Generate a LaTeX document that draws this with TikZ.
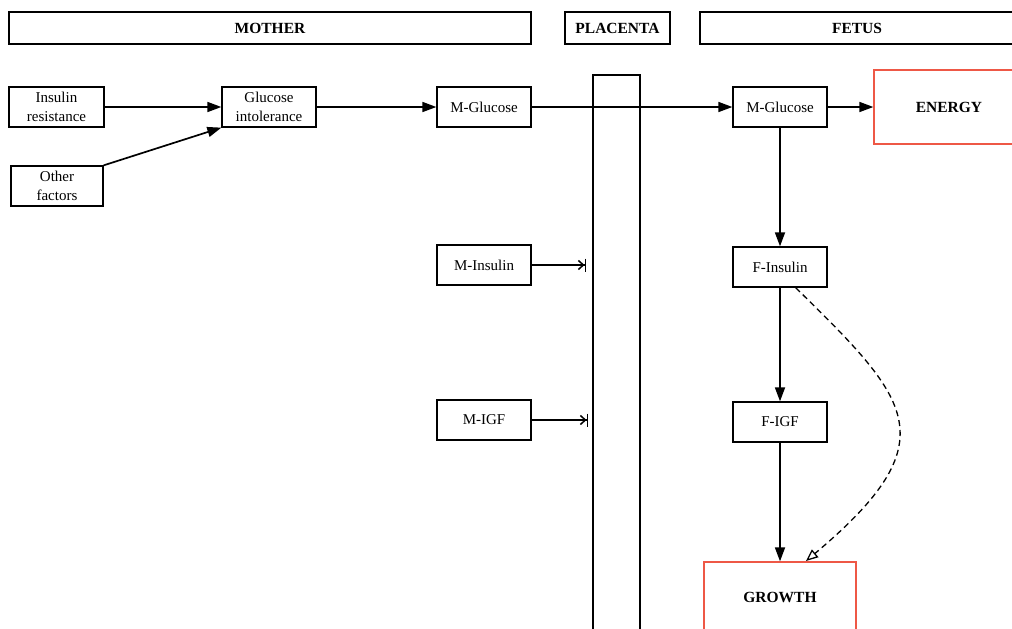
\documentclass[tikz,border=0pt]{standalone}
\usepackage{fontspec}
\setmainfont{Liberation Serif}
\usepackage{tikz}
\usetikzlibrary{arrows, arrows.meta}
\definecolor{outred}{RGB}{238,88,70}

\begin{document}
\begin{tikzpicture}[
    > = {Triangle[length=14pt,width=10pt]}, % arrow head style
    x = 1pt, y = -1pt, % one unit per pixel, y downwards
    every edge/.style = {draw, line width = 1.7pt}, % line style
    font = \fontsize{15}{19}\selectfont
]

\tikzstyle{every node}=[
    draw = black,
    line width = 1.3pt,
    fill = white,
    inner sep = 0pt,
    align = center
]
\tikzstyle{small box}=[minimum width = 94pt, minimum height = 40pt]
\tikzstyle{header}=[minimum height = 32pt, font = \fontsize{15.5}{19}\selectfont\bfseries]
\tikzstyle{outcome}=[draw = outred, font = \fontsize{15.5}{19}\selectfont\bfseries]
\tikzstyle{blocked}=[draw, line width = 1.5pt, -{Straight Barb[length=5pt,width=9pt] Bar[width=13pt]}]

\clip (0,0) rectangle (1012,629);

% column headers
\node[header, minimum width = 522pt] (Mother) at (270,28) {MOTHER};
\node[header, minimum width = 105pt] (Placenta) at (617.5,28) {PLACENTA};
\node[header, minimum width = 314pt] (Fetus) at (857,28) {FETUS};

% placenta barrier
\node[minimum width = 47pt, minimum height = 625pt] (Barrier) at (616.5,387.5) {};

% mother side
\node[small box, minimum width = 95pt] (Insulin resistance) at (56.5,107) {Insulin\\resistance};
\node[small box, minimum width = 92pt] (Other factors) at (57,186) {Other\\factors};
\node[small box] (Glucose intolerance) at (269,107) {Glucose\\intolerance};
\node[small box] (Mother Glucose) at (484,107) {M-Glucose};
\node[small box] (Mother Insulin) at (484,265) {M-Insulin};
\node[small box] (Mother IGF) at (484,420) {M-IGF};

% fetus side
\node[small box] (Fetal Glucose) at (780,107) {M-Glucose};
\node[small box] (Fetal Insulin) at (780,267) {F-Insulin};
\node[small box] (Fetal IGF) at (780,422) {F-IGF};
\node[outcome, minimum width = 150pt, minimum height = 74pt] (Energy) at (949,107) {ENERGY};
\node[outcome, minimum width = 152pt, minimum height = 70pt] (Growth) at (780,597) {GROWTH};

\coordinate (Insulin stop) at (586,265);
\coordinate (IGF stop) at (588,420);

\path[->] (Insulin resistance) edge (Glucose intolerance);
\path[->] (Other factors.north east) edge (Glucose intolerance.south west);
\path[->] (Glucose intolerance) edge (Mother Glucose);
\path[->] (Mother Glucose) edge (Fetal Glucose);
\path[->] (Fetal Glucose) edge (Energy);
\path[->] (Fetal Glucose) edge (Fetal Insulin);
\path[->] (Fetal Insulin) edge (Fetal IGF);
\path[->] (Fetal IGF) edge (Growth);

% blocked at the placenta
\path[blocked] (Mother Insulin) -- (Insulin stop);
\path[blocked] (Mother IGF) -- (IGF stop);

\draw[dashed, dash pattern = on 6pt off 4pt, line width = 1.3pt, -{Triangle[open, length=12pt, width=10pt]}]
    (Fetal Insulin.south east) ++(-32,0) .. controls (910,400) and (950,440) .. (806,561);

%\draw[red, dashed] (0,0) -- (1012,629);
\end{tikzpicture}
\end{document}
